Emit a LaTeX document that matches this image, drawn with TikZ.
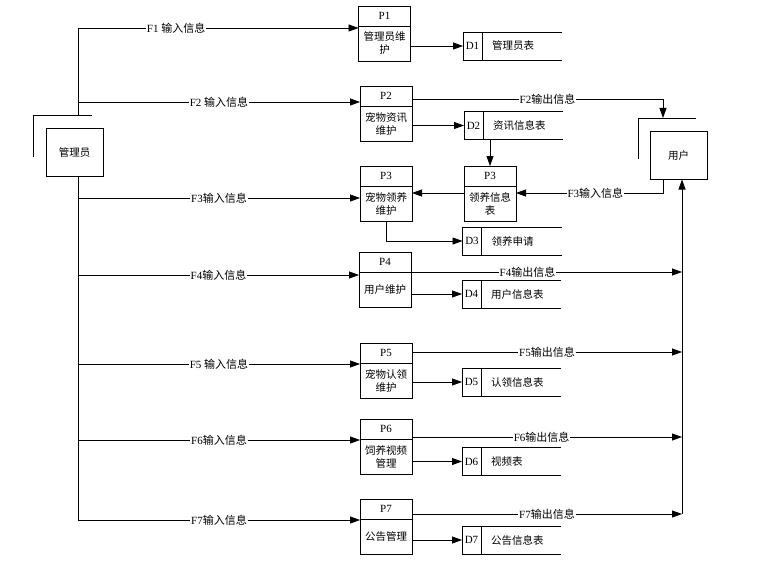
\documentclass[tikz,border=0pt]{standalone}
\usepackage{fontspec}
\setmainfont{Liberation Serif}
\newfontfamily\cjk{Noto Sans CJK SC}
\usetikzlibrary{positioning,arrows.meta}

\begin{document}
\begin{tikzpicture}[x=1pt,y=-1pt,line width=0.8pt,
  every node/.style={font=\fontsize{11}{13}\selectfont, inner sep=0pt, outer sep=0pt},
  ent/.style={draw, font=\cjk\fontsize{10.5}{13}\selectfont, minimum width=57pt, minimum height=48pt},
  phead/.style={draw, minimum width=52pt, minimum height=20pt},
  pbody/.style={draw, font=\cjk\fontsize{10.5}{13}\selectfont, minimum width=52pt, minimum height=35pt, align=center, below=0pt of #1},
  sid/.style={draw, minimum width=19pt, minimum height=28pt},
  stxt/.style={font=\cjk\fontsize{10.5}{13}\selectfont, minimum height=28pt, text width=60pt, inner xsep=10pt, align=left, right=0pt of #1},
  flow/.style={-{Triangle[length=10pt,width=7pt]}},
  lbl/.style={fill=white, inner xsep=1pt}]
\useasboundingbox (0,0) rectangle (781,575);

% Draw entities
\node[ent] (adm) at (74.5,152.5) {管理员};
\node[ent] (usr) at (678.5,155.5) {用户};
\coordinate (ab) at (33,115);
\coordinate (ub) at (638,118);
\draw ([yshift=-42pt]ab) -- (ab) -- ++(59,0);
\draw ([yshift=-41pt]ub) -- (ub) -- ++(58,0);

% Draw processes
\node[phead] (P1h) at (384.5,16) {P1};
\node[pbody=P1h] (P1) {管理员维\\护};
\node[phead] (P2h) at (386,96) {P2};
\node[pbody=P2h] (P2) {宠物资讯\\维护};
\node[phead] (P3h) at (386,176) {P3};
\node[pbody=P3h] (P3) {宠物领养\\维护};
\node[phead] (P3mh) at (490,176) {P3};
\node[pbody=P3mh] (P3m) {领养信息\\表};
\node[phead] (P4h) at (385,262) {P4};
\node[pbody=P4h] (P4) {用户维护};
\node[phead] (P5h) at (386,353) {P5};
\node[pbody=P5h] (P5) {宠物认领\\维护};
\node[phead] (P6h) at (386,429) {P6};
\node[pbody=P6h] (P6) {饲养视频\\管理};
\node[phead] (P7h) at (386,509) {P7};
\node[pbody=P7h] (P7) {公告管理};

% Draw data stores
\node[sid] (D1) at (472.5,46) {D1};
\node[stxt=D1] (T1) {管理员表};
\node[sid] (D2) at (473.5,125.5) {D2};
\node[stxt=D2] (T2) {资讯信息表};
\node[sid] (D3) at (472,241) {D3};
\node[stxt=D3] (T3) {领养申请};
\node[sid] (D4) at (471.5,294) {D4};
\node[stxt=D4] (T4) {用户信息表};
\node[sid] (D5) at (471.5,382) {D5};
\node[stxt=D5] (T5) {认领信息表};
\node[sid] (D6) at (471.5,461.5) {D6};
\node[stxt=D6] (T6) {视频表};
\node[sid] (D7) at (471.5,540) {D7};
\node[stxt=D7] (T7) {公告信息表};
\draw (D1.north east) -- (T1.north east) (D1.south east) -- (T1.south east);
\draw (D2.north east) -- (T2.north east) (D2.south east) -- (T2.south east);
\draw (D3.north east) -- (T3.north east) (D3.south east) -- (T3.south east);
\draw (D4.north east) -- (T4.north east) (D4.south east) -- (T4.south east);
\draw (D5.north east) -- (T5.north east) (D5.south east) -- (T5.south east);
\draw (D6.north east) -- (T6.north east) (D6.south east) -- (T6.south east);
\draw (D7.north east) -- (T7.north east) (D7.south east) -- (T7.south east);

% Input flows from admin
\coordinate (t1) at (78,28);
\coordinate (t2) at (78,102);
\coordinate (t3) at (78,198);
\coordinate (t4) at (78,275);
\coordinate (t5) at (78,364);
\coordinate (t6) at (78,440);
\coordinate (t7) at (78,520);
\draw (t1) -- (t1 |- ab);
\draw (t7) -- (t7 |- adm.south);
\draw[flow] (t1) -- (t1 -| P1.west) node[lbl,pos=0.35] {F1 {\cjk 输入信息}};
\draw[flow] (t2) -- (t2 -| P2.west) node[lbl,pos=0.5] {F2 {\cjk 输入信息}};
\draw[flow] (t3) -- (t3 -| P3.west) node[lbl,pos=0.5] {F3{\cjk 输入信息}};
\draw[flow] (t4) -- (t4 -| P4.west) node[lbl,pos=0.5] {F4{\cjk 输入信息}};
\draw[flow] (t5) -- (t5 -| P5.west) node[lbl,pos=0.5] {F5 {\cjk 输入信息}};
\draw[flow] (t6) -- (t6 -| P6.west) node[lbl,pos=0.5] {F6{\cjk 输入信息}};
\draw[flow] (t7) -- (t7 -| P7.west) node[lbl,pos=0.5] {F7{\cjk 输入信息}};

% Process to store
\draw[flow] (P1.east |- D1.west) -- (D1.west);
\draw[flow] (P2.east |- D2.west) -- (D2.west);
\draw[flow] (P3.south) |- (D3.west);
\draw[flow] (P4.east |- D4.west) -- (D4.west);
\draw[flow] (P5.east |- D5.west) -- (D5.west);
\draw[flow] (P6.east |- D6.west) -- (D6.west);
\draw[flow] (P7.east |- D7.west) -- (D7.west);
\draw[flow] (P3m.north |- D2.south) -- (P3mh.north);

% Flows with user
\coordinate (r2) at (663,99);
\coordinate (r3) at (663,193);
\draw[flow] (r2 -| P2h.east) -- (r2) node[lbl,pos=0.54] {F2{\cjk 输出信息}} -- (r2 |- ub);
\draw[flow] (r3 |- usr.south) -- (r3) -- (r3 -| P3m.east) node[lbl,pos=0.46] {F3{\cjk 输入信息}};
\draw[flow] (r3 -| P3m.west) -- (r3 -| P3.east);

\coordinate (r4) at (682,272);
\coordinate (r5) at (682,352);
\coordinate (r6) at (682,437);
\coordinate (r7) at (682,514);
\draw[flow] (r4 -| P4h.east) -- (r4) node[lbl,pos=0.43] {F4{\cjk 输出信息}};
\draw[flow] (r5 -| P5h.east) -- (r5) node[lbl,pos=0.5] {F5{\cjk 输出信息}};
\draw[flow] (r6 -| P6h.east) -- (r6) node[lbl,pos=0.48] {F6{\cjk 输出信息}};
\draw[flow] (r7 -| P7h.east) -- (r7) node[lbl,pos=0.5] {F7{\cjk 输出信息}};
\draw[flow] (r7) -- (r7 |- usr.south);
\end{tikzpicture}
\end{document}
